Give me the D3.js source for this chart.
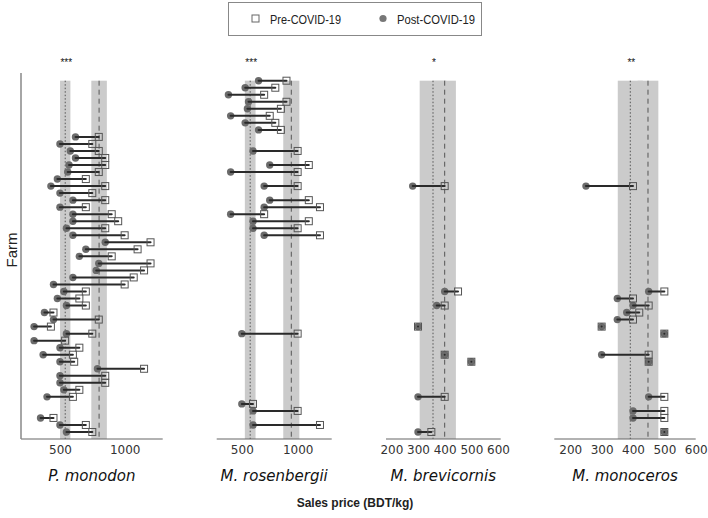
<!DOCTYPE html>
<html><head><meta charset="utf-8">
<script src="https://cdn.jsdelivr.net/npm/d3@7"></script>
<style>body{margin:0;background:#fff}svg{display:block}</style>
</head><body>
<script>
// ---- data (farm numbers 1..51, top to bottom) ----
const species = ["P. monodon", "M. rosenbergii", "M. brevicornis", "M. monoceros"];
const significance = ["***", "***", "*", "**"];

const monodonFarms = [9,10,11,12,13,14,15,16,17,18,19,20,21,22,23,24,25,26,27,28,29,30,31,32,33,34,35,36,37,38,39,40,41,42,43,44,45,46,49,50,51];
const monodonPost  = [620,500,580,620,570,560,480,430,500,600,500,600,600,550,600,850,700,650,800,780,600,450,530,480,550,380,450,300,550,300,500,370,500,790,500,500,530,400,350,500,550];
const monodonPre   = [800,750,800,850,850,800,700,850,750,850,700,900,950,850,1000,1200,1100,900,1200,1150,1070,1000,700,650,700,450,800,430,750,540,650,600,610,1150,850,850,650,600,450,700,750];

const rosenFarms = [1,2,3,4,5,6,7,8,11,13,14,16,18,19,20,21,22,23,37,47,48,50];
const rosenPost  = [650,530,380,560,550,400,530,650,600,750,400,700,750,700,400,600,600,700,500,500,600,600];
const rosenPre   = [900,800,700,900,850,750,800,850,1000,1100,1000,1000,1100,1200,700,1100,1000,1200,1000,600,1000,1200];

const brevFarms = [16,31,33,36,40,41,46,51];
const brevPost  = [280,400,370,300,400,500,300,300];
const brevPre   = [400,450,400,300,400,500,400,350];

const monoFarms = [16,31,32,33,34,35,36,37,40,41,46,48,49,51];
const monoPost  = [250,450,350,400,380,350,300,500,300,450,450,400,400,500];
const monoPre   = [400,500,400,450,420,400,300,500,450,450,500,500,500,500];

// 95% CI half-widths around the means (post, pre)
const ciPost = [40, 48, 50, 40];
const ciPre  = [60, 72, 42, 33];

const xDomains = [[199,1294],[275,1305],[180,610],[149,600]];
const xTicks = [[500,1000],[500,1000],[200,300,400,500,600],[200,300,400,500,600]];
const legendLabels = ["Pre-COVID-19", "Post-COVID-19"];

// ---- layout ----
const W = 708, H = 518;
const panelRanges = [[21,162.7],[216.7,331.7],[386,500.7],[554.3,695.7]];
const axisTop = 73, axisBottom = 439;
const y = d3.scaleLinear().domain([1, 51]).range([80.7, 432]);

const svg = d3.select("body").append("svg").attr("width", W).attr("height", H);

const sets = [
  {farms: monodonFarms, post: monodonPost, pre: monodonPre},
  {farms: rosenFarms, post: rosenPost, pre: rosenPre},
  {farms: brevFarms, post: brevPost, pre: brevPre},
  {farms: monoFarms, post: monoPost, pre: monoPre}
];

const bandColor = "#cbcbcb";
sets.forEach((s, i) => {
  const x = d3.scaleLinear().domain(xDomains[i]).range(panelRanges[i]);
  const g = svg.append("g");
  const mPost = d3.mean(s.post), mPre = d3.mean(s.pre);
  const top = y(1), bot = axisBottom;
  [[mPost, ciPost[i]], [mPre, ciPre[i]]].forEach(([m, c]) => {
    g.append("rect").attr("x", x(m - c)).attr("width", x(m + c) - x(m - c))
      .attr("y", top).attr("height", bot - top).attr("fill", bandColor);
  });
  g.append("line").attr("x1", x(mPost)).attr("x2", x(mPost)).attr("y1", top).attr("y2", bot)
    .attr("stroke", "#555").attr("stroke-width", 1).attr("stroke-dasharray", "1.5,2");
  g.append("line").attr("x1", x(mPre)).attr("x2", x(mPre)).attr("y1", top).attr("y2", bot)
    .attr("stroke", "#555").attr("stroke-width", 1).attr("stroke-dasharray", "5,4");
  g.append("line").attr("x1", panelRanges[i][0]).attr("x2", panelRanges[i][1])
    .attr("y1", axisBottom).attr("y2", axisBottom).attr("stroke", "#666").attr("stroke-width", 1.2);
  const ax = d3.axisBottom(x).tickValues(xTicks[i]).tickSize(0).tickPadding(6).tickFormat(d3.format("d"));
  const axg = g.append("g").attr("transform", `translate(0,${axisBottom})`).call(ax);
  axg.select(".domain").remove();
  axg.selectAll("text").attr("font-family", "DejaVu Sans").attr("font-size", 12).attr("fill", "#333");
  g.append("text").attr("x", (panelRanges[i][0] + panelRanges[i][1]) / 2).attr("y", 481)
    .attr("text-anchor", "middle").attr("font-family", "DejaVu Sans").attr("font-style", "italic")
    .attr("font-size", 15).attr("fill", "#111").text(species[i]);
  g.append("text").attr("x", x(mPost) + 1).attr("y", 66).attr("text-anchor", "middle")
    .attr("font-family", "Liberation Sans").attr("font-size", 10).attr("fill", "#111").text(significance[i]);
  const rows = s.farms.map((f, k) => ({f, post: s.post[k], pre: s.pre[k]}));
  g.selectAll(".pt").data(rows).join("circle").attr("cx", d => x(d.post)).attr("cy", d => y(d.f))
    .attr("r", 3.7).attr("fill", "#6b6b6b");
  g.selectAll(".seg").data(rows).join("line")
    .attr("x1", d => x(d.post)).attr("x2", d => x(d.pre)).attr("y1", d => y(d.f)).attr("y2", d => y(d.f))
    .attr("stroke", "#2a2a2a").attr("stroke-width", 2).attr("stroke-linecap", "round");
  g.selectAll(".sq").data(rows).join("rect").attr("x", d => x(d.pre) - 3.5).attr("y", d => y(d.f) - 3.5)
    .attr("width", 7).attr("height", 7).attr("fill", "none").attr("stroke", "#555").attr("stroke-width", 1);
});

svg.append("line").attr("x1", 21).attr("x2", 21).attr("y1", axisTop).attr("y2", axisBottom)
  .attr("stroke", "#888").attr("stroke-width", 1.5);
svg.append("text").attr("transform", "translate(17,250) rotate(-90)").attr("text-anchor", "middle")
  .attr("font-family", "Liberation Sans").attr("font-size", 15).attr("fill", "#222").text("Farm");

svg.append("text").attr("x", 355).attr("y", 507).attr("text-anchor", "middle")
  .attr("font-family", "Liberation Sans").attr("font-weight", "bold").attr("font-size", 12)
  .attr("fill", "#222").text("Sales price (BDT/kg)");

const lg = svg.append("g");
lg.append("rect").attr("x", 228.5).attr("y", 2.5).attr("width", 253).attr("height", 33)
  .attr("fill", "#fff").attr("stroke", "#888").attr("stroke-width", 1);
lg.append("rect").attr("x", 252).attr("y", 15).attr("width", 7).attr("height", 7)
  .attr("fill", "none").attr("stroke", "#666");
lg.append("text").attr("x", 270).attr("y", 23.5).attr("font-family", "Liberation Sans").attr("font-size", 13)
  .attr("textLength", 71).attr("lengthAdjust", "spacingAndGlyphs")
  .attr("fill", "#222").text(legendLabels[0]);
lg.append("circle").attr("cx", 383).attr("cy", 18.5).attr("r", 3.6).attr("fill", "#777");
lg.append("text").attr("x", 397).attr("y", 23.5).attr("font-family", "Liberation Sans").attr("font-size", 13)
  .attr("textLength", 78).attr("lengthAdjust", "spacingAndGlyphs")
  .attr("fill", "#222").text(legendLabels[1]);
</script>
</body></html>
